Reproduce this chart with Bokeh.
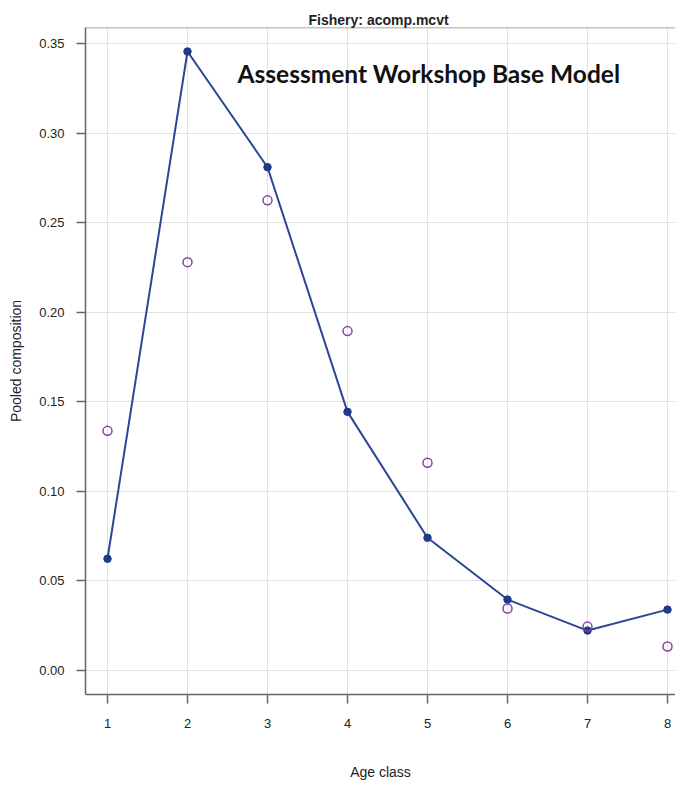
from bokeh.plotting import figure
from bokeh.models import Range1d, Label, Span, FixedTicker, CustomJSTickFormatter
from bokeh.embed import file_html
from bokeh.resources import INLINE

age_class = [1, 2, 3, 4, 5, 6, 7, 8]
expected = [0.0624, 0.3456, 0.281, 0.1444, 0.0741, 0.0396, 0.0223, 0.034]
observed = [0.1338, 0.228, 0.2625, 0.1895, 0.116, 0.0346, 0.0245, 0.0134]
y_ticks = [0.0, 0.05, 0.10, 0.15, 0.20, 0.25, 0.30, 0.35]

X_START, X_END = 0.725, 8.1
Y_START, Y_END = -0.0134, 0.359

p = figure(width=675, height=782, output_backend="svg", toolbar_location=None,
           x_range=Range1d(X_START, X_END), y_range=Range1d(Y_START, Y_END),
           min_border_left=85, min_border_right=0, min_border_top=27, min_border_bottom=82,
           title="Fishery:  acomp.mcvt")

p.title.align = "center"
p.title.text_font = "Liberation Sans"
p.title.text_font_size = "14px"
p.title.text_font_style = "bold"
p.title.text_color = "#222222"
p.title.standoff = 0
p.title.offset = -8

p.outline_line_color = None
p.background_fill_color = "white"

for ax in (p.xaxis[0], p.yaxis[0]):
    ax.axis_line_color = "#666666"
    ax.axis_line_width = 1.5
    ax.major_tick_line_color = "#666666"
    ax.major_tick_line_width = 1.5
    ax.major_tick_out = 9
    ax.major_tick_in = 0
    ax.minor_tick_line_color = None
    ax.major_label_text_font = "Liberation Sans"
    ax.major_label_text_font_size = "13px"
    ax.major_label_text_color = "#222222"
    ax.axis_label_text_font = "Liberation Sans"
    ax.axis_label_text_font_size = "14px"
    ax.axis_label_text_font_style = "normal"
    ax.axis_label_text_color = "#222222"

p.xaxis.ticker = FixedTicker(ticks=age_class)
p.yaxis.ticker = FixedTicker(ticks=y_ticks)
p.yaxis.formatter = CustomJSTickFormatter(code="return tick.toFixed(2);")
p.xaxis.major_label_standoff = 15
p.yaxis.major_label_standoff = 12
p.xaxis.axis_label = "Age class"
p.yaxis.axis_label = "Pooled composition"
p.xaxis.axis_label_standoff = 33
p.yaxis.axis_label_standoff = 12

p.xgrid.grid_line_color = "#e2e2e2"
p.ygrid.grid_line_color = "#e2e2e2"
p.xgrid.ticker = FixedTicker(ticks=age_class)
p.ygrid.ticker = FixedTicker(ticks=y_ticks)

p.add_layout(Span(location=Y_END, dimension="width", line_color="#888888", line_width=1.5))

p.line(age_class, expected, line_color="#2b4696", line_width=2)
p.scatter(age_class, expected, size=7.5, fill_color="#1f3a8a", line_color="#1f3a8a")
p.scatter(age_class, observed, size=9, fill_color=None, line_color="#8a3fa6", line_width=1.5)

p.add_layout(Label(x=2.625, y=0.3333, text="Assessment Workshop Base Model",
                   text_font="Lato", text_font_size="24.5px", text_font_style="bold",
                   text_color="#111111", text_baseline="middle", text_align="left"))

open("out.html", "w").write(file_html(p, INLINE))
